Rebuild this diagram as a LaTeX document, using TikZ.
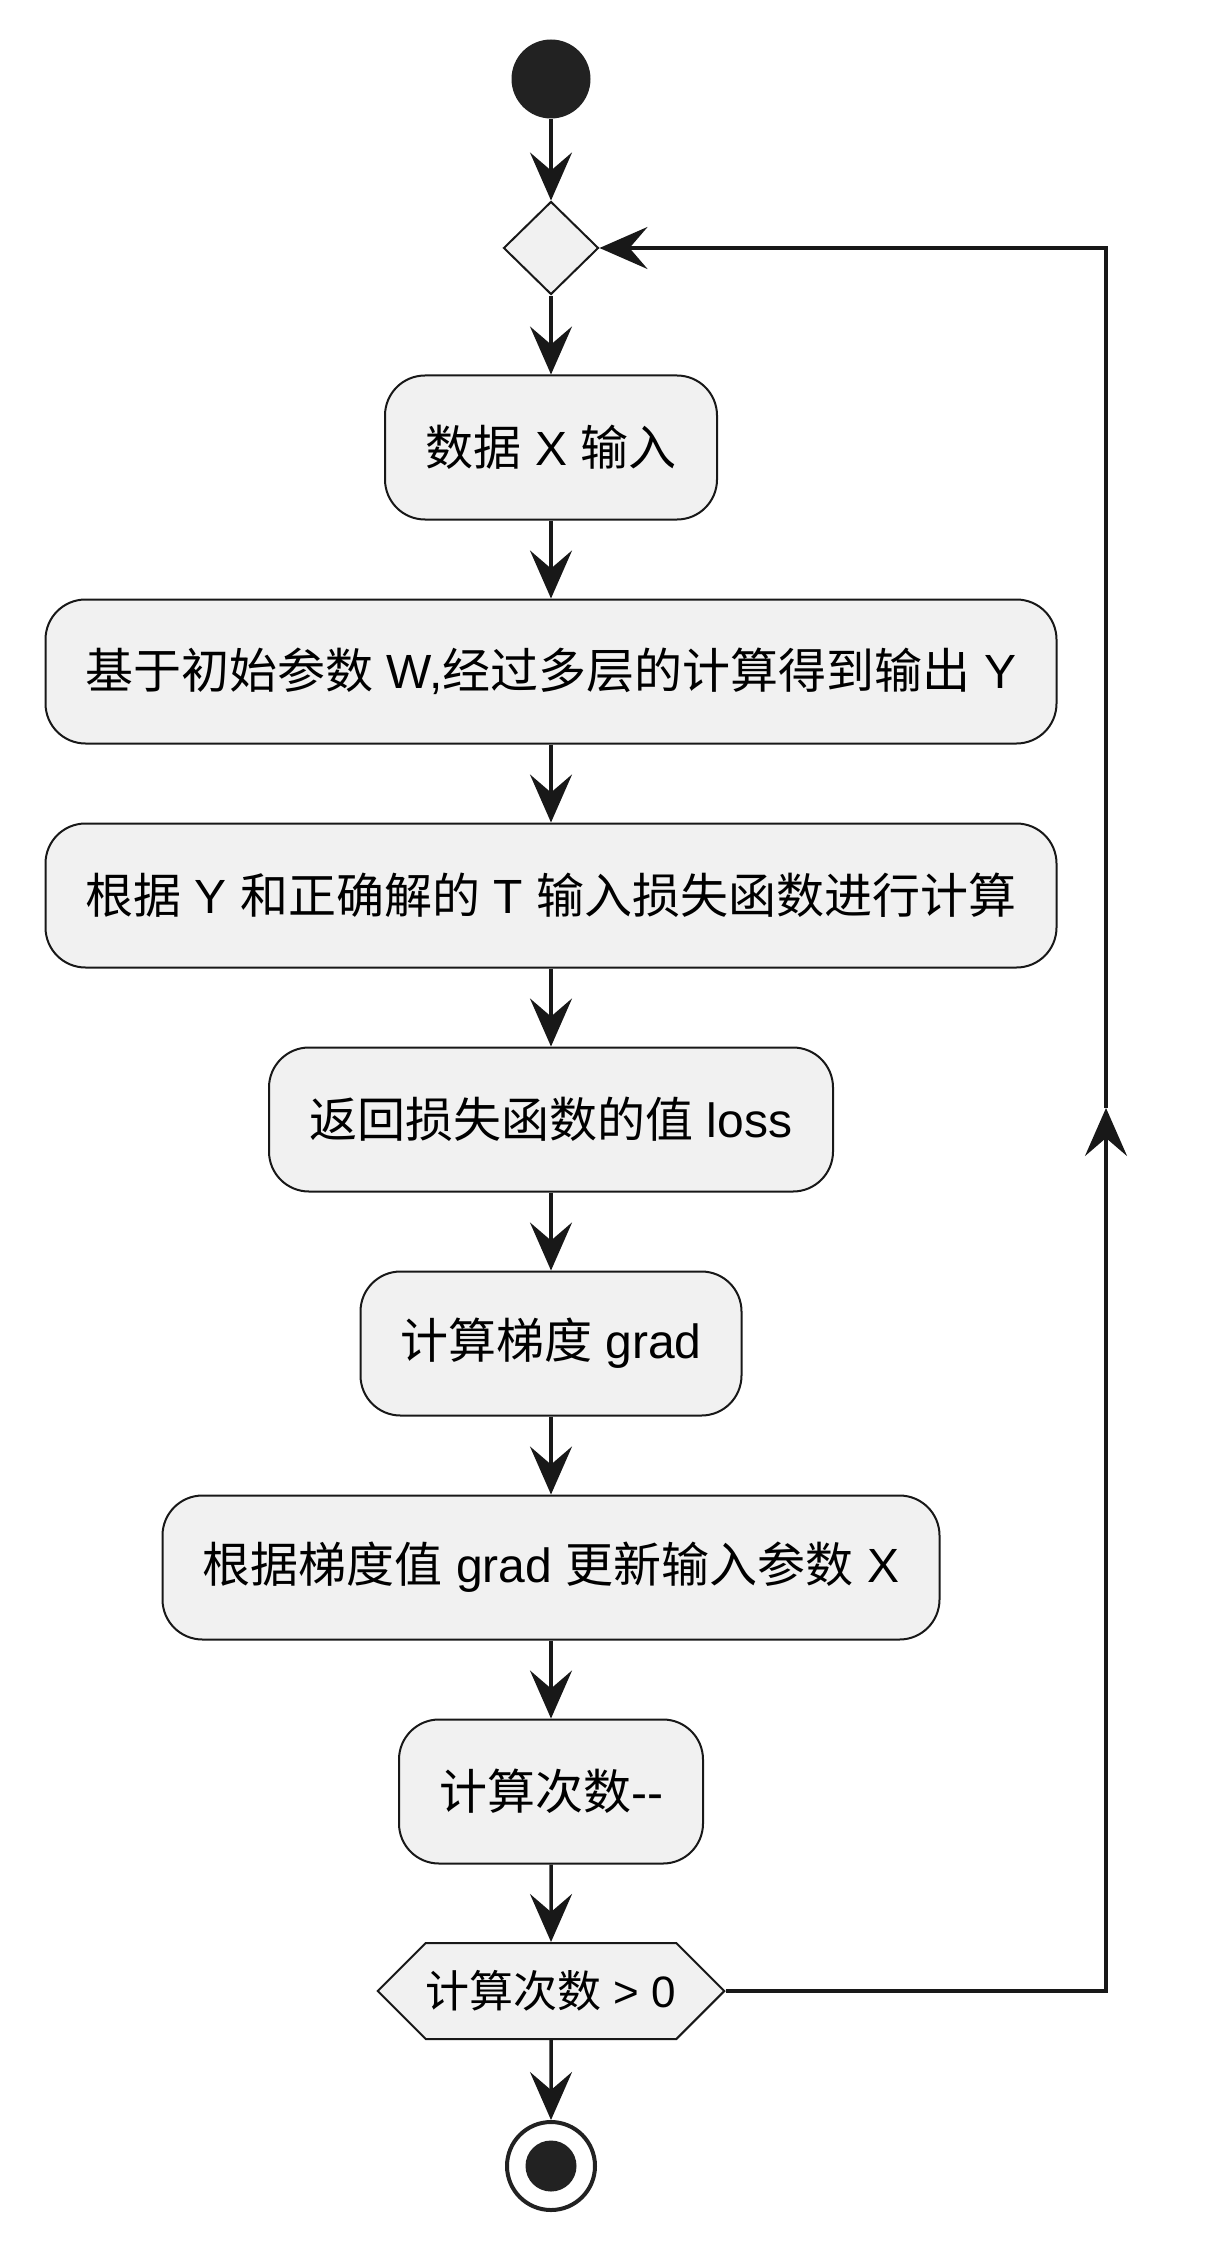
\documentclass[tikz,border=0pt]{standalone}
\usepackage{fontspec}
\setmainfont{Liberation Sans}
\newfontfamily\cjk{Noto Sans CJK SC}
\usepackage{xcolor}
\usetikzlibrary{shapes.geometric,shapes.symbols,arrows.meta}
\definecolor{fondo}{HTML}{F1F1F1}
\definecolor{borde}{HTML}{181818}
\definecolor{negro}{HTML}{222222}
\newcommand{\zhtxt}[1]{{\cjk #1}}

\begin{document}
\begin{tikzpicture}[x=0.5pt,y=-0.5pt,
    accion/.style={draw=borde,fill=fondo,line width=1pt,rounded corners=20pt,minimum height=72pt,inner sep=0pt,font=\fontsize{24}{28}\selectfont},
    flecha/.style={draw=borde,line width=1.75pt,-{Stealth[length=24pt,width=21pt,inset=9pt]}}]
            \useasboundingbox (0,0) rectangle (1205,2246); % marco
            \node[circle,fill=negro,minimum size=39.5pt,inner sep=0pt] (inicio) at (551,79) {}; % inicio
            \node[diamond,draw=borde,fill=fondo,line width=1pt,minimum width=47.5pt,minimum height=46.5pt,inner sep=0pt] (union) at (551,248) {};
            \node[accion,minimum width=166pt] (a1) at (551,447.5) {\zhtxt{数据} X \zhtxt{输入}};
            \node[accion,minimum width=505.5pt] (a2) at (551,671.5) {\zhtxt{基于初始参数} W,\zhtxt{经过多层的计算得到输出} Y};
            \node[accion,minimum width=505.5pt] (a3) at (551,895.5) {\zhtxt{根据} Y \zhtxt{和正确解的} T \zhtxt{输入损失函数进行计算}};
            \node[accion,minimum width=282pt] (a4) at (551,1119.5) {\zhtxt{返回损失函数的值} loss};
            \node[accion,minimum width=190.5pt] (a5) at (551,1343.5) {\zhtxt{计算梯度} grad};
            \node[accion,minimum width=388.5pt] (a6) at (551,1567.5) {\zhtxt{根据梯度值} grad \zhtxt{更新输入参数} X};
            \node[accion,minimum width=152pt] (a7) at (551,1791.5) {\zhtxt{计算次数}-{}-};
            \node[signal,signal to=east and west,signal pointer angle=90,draw=borde,fill=fondo,line width=1pt,minimum width=172.5pt,minimum height=48pt,inner sep=0pt,font=\fontsize{22}{26}\selectfont] (cond) at (551,1991) {\zhtxt{计算次数} > 0};
            \node[circle,draw=negro,line width=2pt,fill=white,minimum size=44pt,inner sep=0pt] (fin) at (551,2166) {}; % fin
            \node[circle,fill=negro,minimum size=25.5pt,inner sep=0pt] (finpunto) at (fin.center) {};
            \foreach \a/\b in {inicio/union,union/a1,a1/a2,a2/a3,a3/a4,a4/a5,a5/a6,a6/a7,a7/cond,cond/fin}
                \draw[flecha] (\a) -- (\b);
            \coordinate (bucleabajo) at (1106,1991); % bucle
            \coordinate (buclemedio) at (1106,1108);
            \coordinate (buclearriba) at (1106,248);
            \draw[flecha] (cond.east) -- (bucleabajo) -- (buclemedio);
            \draw[flecha] (buclemedio) -- (buclearriba) -- (union.east);
\end{tikzpicture}
\end{document}
